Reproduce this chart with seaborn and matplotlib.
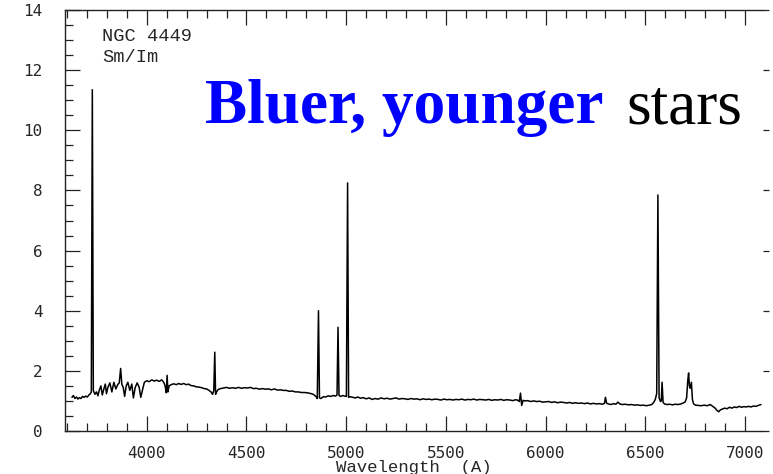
import matplotlib
matplotlib.use("Agg")
import matplotlib.pyplot as plt
import seaborn as sns
import pandas as pd
from matplotlib.ticker import MultipleLocator

# ---- data ----
wavelength = [
    3625, 3632, 3640, 3648, 3655, 3662, 3670, 3678, 3686, 3694, 3702, 3710, 3717, 3722,
    3727, 3732, 3740, 3748, 3755, 3762, 3770, 3777, 3785, 3792, 3798, 3805, 3815, 3825,
    3835, 3845, 3855, 3862, 3869, 3875, 3882, 3889, 3897, 3905, 3915, 3925, 3933, 3942,
    3952, 3962, 3970, 3978, 3988, 4000, 4012, 4025, 4038, 4050, 4062, 4075, 4085, 4092,
    4098, 4102, 4106, 4112, 4122, 4135, 4148, 4160, 4172, 4185, 4198, 4210, 4222, 4235,
    4248, 4262, 4275, 4288, 4300, 4312, 4322, 4330, 4336, 4341, 4345, 4350, 4358, 4370,
    4385, 4400, 4415, 4430, 4445, 4460, 4475, 4490, 4505, 4520, 4535, 4550, 4565, 4580,
    4595, 4610, 4625, 4640, 4655, 4670, 4685, 4700, 4715, 4730, 4745, 4760, 4775, 4790,
    4805, 4820, 4835, 4848, 4855, 4861, 4866, 4873, 4885, 4897, 4910, 4922, 4935, 4947,
    4954, 4959, 4964, 4972, 4982, 4992, 5001, 5007, 5012, 5020, 5032, 5045, 5058, 5072,
    5085, 5100, 5115, 5130, 5145, 5160, 5175, 5190, 5205, 5220, 5235, 5250, 5265, 5280,
    5295, 5310, 5325, 5340, 5355, 5370, 5385, 5400, 5415, 5430, 5445, 5460, 5475, 5490,
    5505, 5520, 5535, 5550, 5565, 5580, 5595, 5610, 5625, 5640, 5655, 5670, 5685, 5700,
    5715, 5730, 5745, 5760, 5775, 5790, 5805, 5820, 5835, 5850, 5862, 5868, 5874, 5880,
    5887, 5897, 5910, 5925, 5940, 5955, 5970, 5985, 6000, 6015, 6030, 6045, 6060, 6075,
    6090, 6105, 6120, 6135, 6150, 6165, 6180, 6195, 6210, 6225, 6240, 6255, 6270, 6285,
    6295, 6300, 6306, 6315, 6328, 6340, 6352, 6363, 6372, 6385, 6400, 6415, 6430, 6445,
    6460, 6475, 6490, 6505, 6520, 6532, 6542, 6550, 6557, 6563, 6569, 6576, 6580, 6584,
    6589, 6596, 6608, 6622, 6636, 6650, 6664, 6678, 6690, 6700, 6707, 6713, 6717, 6721,
    6725, 6731, 6736, 6742, 6752, 6765, 6780, 6795, 6810, 6825, 6838, 6850, 6860, 6868,
    6876, 6886, 6898, 6910, 6922, 6934, 6946, 6958, 6970, 6982, 6994, 7006, 7018, 7030,
    7042, 7054, 7066, 7080,
]
flux = [
    1.12, 1.18, 1.08, 1.13, 1.06, 1.11, 1.08, 1.15, 1.12, 1.16, 1.13, 1.20, 1.24, 1.30,
    11.35, 1.35, 1.22, 1.30, 1.17, 1.36, 1.50, 1.20, 1.40, 1.56, 1.24, 1.45, 1.60, 1.30,
    1.62, 1.40, 1.55, 1.60, 2.08, 1.55, 1.45, 1.15, 1.50, 1.62, 1.35, 1.56, 1.10, 1.45,
    1.60, 1.45, 1.12, 1.35, 1.62, 1.67, 1.64, 1.70, 1.66, 1.69, 1.65, 1.70, 1.62, 1.50,
    1.27, 1.85, 1.30, 1.50, 1.54, 1.57, 1.54, 1.58, 1.55, 1.58, 1.54, 1.56, 1.51, 1.50,
    1.47, 1.46, 1.44, 1.41, 1.40, 1.35, 1.30, 1.22, 1.35, 2.62, 1.22, 1.30, 1.38, 1.41,
    1.43, 1.45, 1.42, 1.44, 1.42, 1.45, 1.42, 1.44, 1.43, 1.45, 1.41, 1.42, 1.39, 1.41,
    1.39, 1.40, 1.37, 1.40, 1.36, 1.37, 1.35, 1.35, 1.32, 1.33, 1.30, 1.30, 1.28, 1.28,
    1.27, 1.25, 1.22, 1.15, 1.08, 4.00, 1.10, 1.08, 1.14, 1.13, 1.17, 1.15, 1.18, 1.16,
    1.20, 3.45, 1.18, 1.15, 1.18, 1.16, 1.15, 8.25, 1.12, 1.14, 1.12, 1.10, 1.13, 1.09,
    1.11, 1.07, 1.10, 1.05, 1.08, 1.06, 1.10, 1.07, 1.09, 1.06, 1.08, 1.10, 1.06, 1.08,
    1.07, 1.05, 1.08, 1.06, 1.07, 1.04, 1.07, 1.05, 1.06, 1.04, 1.06, 1.05, 1.03, 1.06,
    1.04, 1.05, 1.03, 1.05, 1.04, 1.06, 1.03, 1.05, 1.04, 1.06, 1.03, 1.05, 1.04, 1.03,
    1.05, 1.02, 1.04, 1.03, 1.05, 1.02, 1.04, 1.03, 1.01, 1.04, 1.02, 0.98, 1.26, 0.85,
    1.02, 1.00, 1.01, 0.98, 1.00, 0.98, 0.99, 0.96, 0.97, 0.98, 0.95, 0.97, 0.94, 0.96,
    0.95, 0.93, 0.95, 0.92, 0.94, 0.92, 0.93, 0.91, 0.93, 0.90, 0.92, 0.90, 0.91, 0.89,
    0.92, 1.12, 0.92, 0.90, 0.88, 0.91, 0.89, 0.96, 0.90, 0.88, 0.89, 0.87, 0.88, 0.86,
    0.87, 0.85, 0.86, 0.84, 0.86, 0.88, 0.95, 1.05, 1.25, 7.85, 1.10, 0.98, 1.00, 1.62,
    0.95, 0.90, 0.88, 0.89, 0.87, 0.89, 0.88, 0.90, 0.93, 0.97, 1.10, 1.70, 1.93, 1.50,
    1.42, 1.62, 1.05, 0.90, 0.86, 0.85, 0.84, 0.86, 0.84, 0.88, 0.82, 0.76, 0.68, 0.64,
    0.70, 0.73, 0.76, 0.74, 0.79, 0.76, 0.80, 0.78, 0.82, 0.79, 0.81, 0.80, 0.82, 0.80,
    0.83, 0.82, 0.85, 0.88,
]
x_ticks = [4000, 4500, 5000, 5500, 6000, 6500, 7000]
y_ticks = [0, 2, 4, 6, 8, 10, 12, 14]
x_label = "Wavelength  (A)"
galaxy = ["NGC 4449", "Sm/Im"]
headline_blue = "Bluer, younger"
headline_black = "stars"

df = pd.DataFrame({"wavelength": wavelength, "flux": flux})

sns.set_style("ticks")
plt.rcParams["font.family"] = ["DejaVu Sans Mono", "DejaVu Sans"]

fig = plt.figure(figsize=(7.73, 4.74), dpi=100)
fig.patch.set_facecolor("white")
ax = fig.add_axes([65 / 773, 1 - 431 / 474, (763 - 65) / 773, (431 - 10) / 474])

sns.lineplot(data=df, x="wavelength", y="flux", ax=ax, color="black",
             linewidth=1.1, estimator=None, sort=False)

ax.set_xlim(3590, 7090)
ax.set_ylim(0, 14)
ax.set_xticks(x_ticks)
ax.set_yticks(y_ticks)
ax.xaxis.set_minor_locator(MultipleLocator(100))
ax.yaxis.set_minor_locator(MultipleLocator(0.5))

for s in ["left", "bottom", "top"]:
    ax.spines[s].set_color("#222222")
    ax.spines[s].set_linewidth(1.0)
ax.spines["right"].set_visible(False)

ax.tick_params(axis="x", which="both", direction="in", top=True, bottom=True,
               color="#222222", width=0.9)
ax.tick_params(axis="x", which="major", length=11, pad=11, labelsize=11.5)
ax.tick_params(axis="x", which="minor", length=6)
ax.tick_params(axis="y", which="both", direction="in", left=True, right=False,
               color="#222222", width=0.9)
ax.tick_params(axis="y", which="major", length=11, pad=16, labelsize=11.5)
ax.tick_params(axis="y", which="minor", length=6)
# small marks on the right edge (major only)
ax2 = ax.secondary_yaxis("right")
ax2.set_yticks(y_ticks)
ax2.tick_params(direction="out", length=4, width=0.9, color="#222222", labelright=False)
ax2.spines["right"].set_visible(False)

ax.set_xlabel(x_label, family="Liberation Mono", fontsize=12.5, labelpad=-1)
ax.set_ylabel("")

ax.text(102 / 773, 1 - 41 / 474, galaxy[0], transform=fig.transFigure,
        family="Liberation Mono", fontsize=13.5, ha="left", va="baseline")
ax.text(102 / 773, 1 - 62 / 474, galaxy[1], transform=fig.transFigure,
        family="Liberation Mono", fontsize=13.5, ha="left", va="baseline")

t1 = fig.text(205 / 773, 1 - 123 / 474, headline_blue, family="Liberation Serif",
              fontsize=45.5, fontweight="bold", color="#0000ff", ha="left", va="baseline")
fig.canvas.draw()
bb = t1.get_window_extent()
fig.text((bb.x1 + 23) / 773, 1 - 123 / 474, headline_black, family="Liberation Serif",
         fontsize=45.5, color="black", ha="left", va="baseline")

fig.savefig("out.png", dpi=100, facecolor="white")
